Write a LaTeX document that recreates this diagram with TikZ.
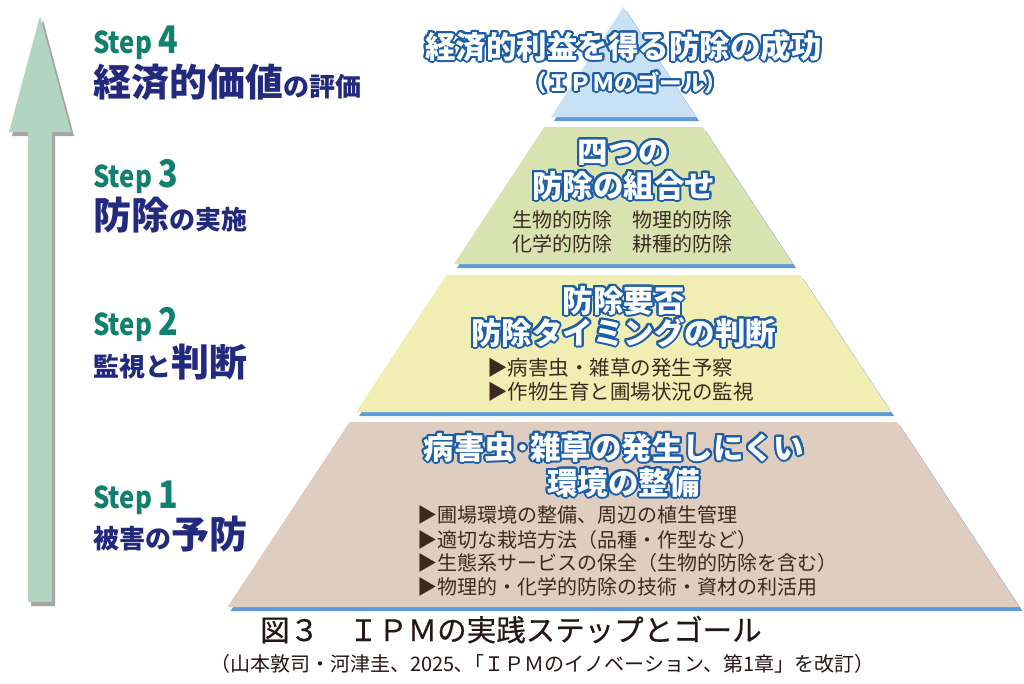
\documentclass[tikz,border=0pt]{standalone}
\usepackage{fontspec}
\usepackage{xcolor}
\usepackage{contour}
\newfontfamily\jp{Noto Sans CJK JP}
\newfontfamily\jpcap{Noto Sans CJK JP}[FakeBold=0.5]

\definecolor{tierblue}{HTML}{C9E1F4}
\definecolor{tiergreen}{HTML}{D9E3B2}
\definecolor{tieryellow}{HTML}{F1EEB4}
\definecolor{tierbeige}{HTML}{DFCDBF}
\definecolor{tiershade}{HTML}{5F9BD8}
\definecolor{arrowgreen}{HTML}{B1D5C1}
\definecolor{steal}{HTML}{12806F}
\definecolor{snavy}{HTML}{232A7E}
\definecolor{rim}{HTML}{1B5DA6}
\definecolor{bodybrown}{HTML}{3A2B1E}
\definecolor{capdark}{HTML}{231815}

\contourlength{2pt}
\contournumber{20}

\begin{document}
\begin{tikzpicture}[x=1pt,y=-1pt,
  steptag/.style={anchor=base west,inner sep=0pt,text=steal,font=\jp\bfseries\fontsize{30}{30}\selectfont},
  stepname/.style={anchor=base west,inner sep=0pt,text=snavy,font=\jp\bfseries\fontsize{26}{26}\selectfont},
  tiertitle/.style={anchor=base,inner sep=0pt,text=white,font=\jp\bfseries\fontsize{30.5}{30.5}\selectfont},
  tierbody/.style={inner sep=0pt,text=bodybrown,font=\jp\fontsize{20}{20}\selectfont},
  caption/.style={anchor=base west,inner sep=0pt,text=capdark,font=\jp}]
\useasboundingbox (0,0) rectangle (1024,683);
\fill[white] (0,0) rectangle (1024,683);

% rising arrow
\fill[gray!70,shift={(3,4)}] (28,602) -- (28,132) -- (9,132) -- (40,16) -- (71,132) -- (52,132) -- (52,602) -- cycle;
\fill[arrowgreen] (28,602) -- (28,132) -- (9,132) -- (40,16) -- (71,132) -- (52,132) -- (52,602) -- cycle;

% steps
\node[steptag] (tag4) at (93,53) {\scalebox{0.86}[1]{Step}\hspace{6pt}{\fontsize{38}{38}\selectfont\scalebox{0.85}[1]{4}}};
\node[stepname] (name4) at (93,96) {{\fontsize{38}{38}\selectfont 経済的価値}の評価};
\node[steptag] (tag3) at (93,187) {\scalebox{0.86}[1]{Step}\hspace{6pt}{\fontsize{38}{38}\selectfont\scalebox{0.85}[1]{3}}};
\node[stepname] (name3) at (93,229) {{\fontsize{38}{38}\selectfont 防除}の実施};
\node[steptag] (tag2) at (93,335) {\scalebox{0.86}[1]{Step}\hspace{6pt}{\fontsize{38}{38}\selectfont\scalebox{0.85}[1]{2}}};
\node[stepname] (name2) at (93,376) {監視と{\fontsize{38}{38}\selectfont 判断}};
\node[steptag] (tag1) at (93,508) {\scalebox{0.86}[1]{Step}\hspace{6pt}{\fontsize{38}{38}\selectfont\scalebox{0.85}[1]{1}}};
\node[stepname] (name1) at (93,548) {被害の{\fontsize{38}{38}\selectfont 予防}};

% pyramid tiers
\fill[tiershade,shift={(3,4)}] (623.5,7) -- (696,117) -- (551,117) -- cycle;
\fill[tierblue] (623.5,7) -- (696,117) -- (551,117) -- cycle;
\fill[tiershade,shift={(3,4)}] (544.3,127) -- (702.7,127) -- (793,264) -- (454,264) -- cycle;
\fill[tiergreen] (544.3,127) -- (702.7,127) -- (793,264) -- (454,264) -- cycle;
\fill[tiershade,shift={(3,4)}] (446.6,275) -- (800.4,275) -- (891,412) -- (356,412) -- cycle;
\fill[tieryellow] (446.6,275) -- (800.4,275) -- (891,412) -- (356,412) -- cycle;
\fill[tiershade,shift={(3,4)}] (349.6,422) -- (897.4,422) -- (1019.5,607) -- (227.5,607) -- cycle;
\fill[tierbeige] (349.6,422) -- (897.4,422) -- (1019.5,607) -- (227.5,607) -- cycle;

% goal
\node[tiertitle] (goal) at (623.5,58) {\contour{rim}{経済的利益を得る防除の成功}};
\node[tiertitle,font=\jp\bfseries\fontsize{22.5}{22.5}\selectfont] (goalsub) at (626,91) {\contour{rim}{（ＩＰＭのゴール）}};

% step 3 tier
\node[tiertitle] (mixA) at (623.5,163) {\contour{rim}{四つの}};
\node[tiertitle] (mixB) at (623.5,197) {\contour{rim}{防除の組合せ}};
\node[tierbody,anchor=base] (mixC) at (622,227) {生物的防除　物理的防除};
\node[tierbody,anchor=base] (mixD) at (622,251) {化学的防除　耕種的防除};

% step 2 tier
\node[tiertitle] (judgeA) at (623.5,312) {\contour{rim}{防除要否}};
\node[tiertitle] (judgeB) at (623.5,344) {\contour{rim}{防除タイミングの判断}};
\node[tierbody,anchor=base west,font=\jp\fontsize{20.5}{20.5}\selectfont] (judgeC) at (487,375) {▶病害虫・雑草の発生予察};
\node[tierbody,anchor=base west,font=\jp\fontsize{20.5}{20.5}\selectfont] (judgeD) at (487,399) {▶作物生育と圃場状況の監視};

% step 1 tier
\node[tiertitle] (prevA) at (614,459) {\contour{rim}{病害虫･雑草の発生しにくい}};
\node[tiertitle] (prevB) at (623.5,494) {\contour{rim}{環境の整備}};
\node[tierbody,anchor=base west] (prevC) at (417,522) {▶圃場環境の整備、周辺の植生管理};
\node[tierbody,anchor=base west] (prevD) at (417,547) {▶適切な栽培方法（品種・作型など）};
\node[tierbody,anchor=base west] (prevE) at (417,570) {▶生態系サービスの保全（生物的防除を含む）};
\node[tierbody,anchor=base west] (prevF) at (417,594) {▶物理的・化学的防除の技術・資材の利活用};

% caption
\node[caption,font=\jpcap\fontsize{29.5}{29.5}\selectfont] (cap) at (260,641) {図３　ＩＰＭの実践ステップとゴール};
\node[caption,font=\jp\fontsize{20}{20}\selectfont] (src) at (210,671) {（山本敦司・河津圭、2025､「ＩＰＭのイノベーション、第1章」を改訂）};
\end{tikzpicture}
\end{document}
